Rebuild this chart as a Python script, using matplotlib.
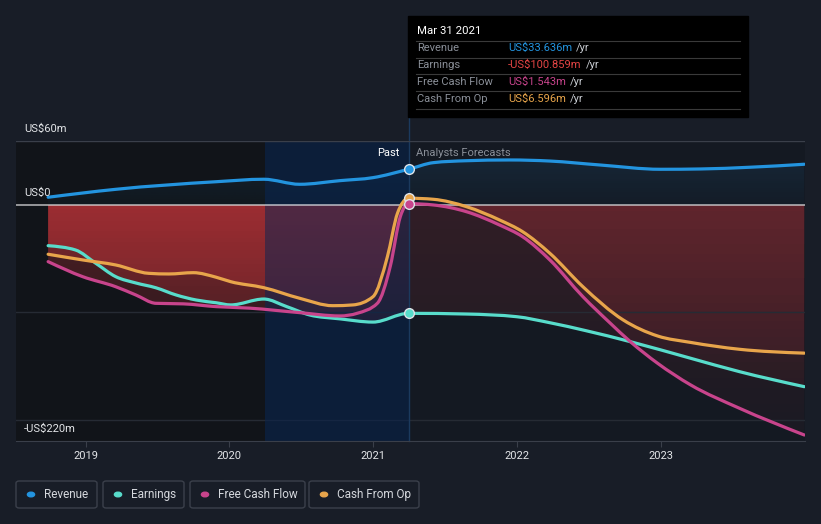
import numpy as np
import matplotlib
matplotlib.use("Agg")
import matplotlib.pyplot as plt
from matplotlib.path import Path
from matplotlib.patches import PathPatch, Rectangle, FancyBboxPatch, Circle
from matplotlib.lines import Line2D

plt.rcParams['font.family'] = ['Roboto', 'DejaVu Sans']

# ---- data (US$ m, x in decimal years) ----
rev_x = [2018.74, 2019.21, 2019.91, 2020.24, 2020.49, 2020.77, 2021.00, 2021.247,
         2021.42, 2021.65, 2021.95, 2022.23, 2022.58, 2023.00, 2023.28, 2023.62, 2024.00]
rev_y = [7.5, 14.9, 22.0, 24.3, 19.6, 23.0, 25.8, 33.636,
         39.8, 41.6, 42.3, 41.3, 37.6, 33.6, 33.9, 35.5, 38.3]

earn_x = [2018.74, 2018.93, 2019.07, 2019.21, 2019.35, 2019.49, 2019.63, 2019.77, 2019.91,
          2020.01, 2020.24, 2020.40, 2020.56, 2020.77, 2021.00, 2021.247,
          2021.65, 2022.00, 2022.23, 2022.48, 2022.79, 2023.21, 2023.55, 2024.00]
earn_y = [-37.7, -41.7, -54.0, -66.6, -72.5, -77.0, -83.7, -88.4, -91.0,
          -93.0, -87.5, -94.6, -102.4, -106.0, -109.0, -100.859,
          -101.5, -104.0, -109.6, -117.0, -127.3, -142.8, -155.3, -169.3]

fcf_x = [2018.74, 2018.98, 2019.21, 2019.35, 2019.49, 2019.68, 2019.91, 2020.14, 2020.49,
         2020.77, 2020.89, 2021.03, 2021.12, 2021.19, 2021.247,
         2021.42, 2021.65, 2021.88, 2022.04, 2022.23, 2022.46, 2022.65, 2022.79, 2022.98,
         2023.21, 2023.55, 2024.00]
fcf_y = [-52.6, -66.6, -76.0, -83.7, -91.5, -92.0, -94.6, -96.0, -100.2,
         -103.3, -100.8, -91.5, -57.0, -10.6, 1.543,
         0.3, -6.0, -18.4, -29.3, -51.0, -85.3, -110.0, -127.3, -147.5,
         -167.7, -189.5, -214.4]

cfo_x = [2018.74, 2018.98, 2019.21, 2019.44, 2019.58, 2019.75, 2019.91, 2020.01, 2020.24,
         2020.49, 2020.72, 2020.86, 2021.00, 2021.10, 2021.17, 2021.247,
         2021.42, 2021.65, 2021.88, 2022.04, 2022.23, 2022.46, 2022.74, 2022.98,
         2023.21, 2023.55, 2024.00]
cfo_y = [-45.7, -51.0, -55.7, -63.5, -64.1, -62.9, -67.2, -71.3, -76.9,
         -86.8, -93.7, -93.0, -85.3, -48.0, -7.5, 6.596,
         5.6, -1.3, -13.7, -24.6, -44.8, -76.0, -107.0, -122.0,
         -128.0, -134.4, -138.0]

series_names = ["Revenue", "Earnings", "Free Cash Flow", "Cash From Op"]
tip_values = ["US$33.636m", "-US$100.859m", "US$1.543m", "US$6.596m"]
tick_years = [2019, 2020, 2021, 2022, 2023]
y_labels = [(60, "US$60m"), (0, "US$0"), (-220, "-US$220m")]

today = 2021.247
REV, EARN, FCF, CFO = '#2394df', '#58dccb', '#c8448c', '#e8a54b'
EARN_TIP = '#e64545'
BG = '#181d27'
AXBG = '#141922'

W, H = 821, 524
X0, X1 = 2018.5165, 2024.005
Y0, Y1 = -220, 60


def monotone_path(xs, ys, close_to=None):
    # monotone cubic (like d3 curveMonotoneX) as bezier segments
    xs = np.asarray(xs, float)
    ys = np.asarray(ys, float)
    n = len(xs)
    h = np.diff(xs)
    s = np.diff(ys) / h
    m = np.zeros(n)
    for i in range(1, n - 1):
        s0, s1, h0, h1 = s[i - 1], s[i], h[i - 1], h[i]
        p = (s0 * h1 + s1 * h0) / (h0 + h1)
        m[i] = (np.sign(s0) + np.sign(s1)) * min(abs(s0), abs(s1), 0.5 * abs(p))
    m[0] = (3 * s[0] - m[1]) / 2
    m[-1] = (3 * s[-1] - m[-2]) / 2
    verts = [(xs[0], ys[0])]
    codes = [Path.MOVETO]
    for i in range(n - 1):
        dx = h[i] / 3
        verts += [(xs[i] + dx, ys[i] + m[i] * dx),
                  (xs[i + 1] - dx, ys[i + 1] - m[i + 1] * dx),
                  (xs[i + 1], ys[i + 1])]
        codes += [Path.CURVE4] * 3
    if close_to is not None:
        verts += [(xs[-1], close_to), (xs[0], close_to), (xs[0], ys[0])]
        codes += [Path.LINETO, Path.LINETO, Path.CLOSEPOLY]
    return Path(verts, codes)


fig = plt.figure(figsize=(W / 100, H / 100), dpi=100, facecolor=BG)
ax = fig.add_axes([16 / W, (H - 441) / H, 789 / W, 300 / H])
ax.set_facecolor(AXBG)

# darker "past" background
ax.add_patch(Rectangle((X0, Y0), 2020.25 - X0, Y1 - Y0, color='#111419', zorder=0.2, lw=0))

# revenue area gradient
gy = np.linspace(0, 1, 100)
rev_img = np.zeros((100, 2, 4))
rev_img[..., :3] = matplotlib.colors.to_rgb(REV)
rev_img[..., 3] = (0.03 + 0.11 * gy)[:, None]
im = ax.imshow(rev_img, extent=[X0, X1, 0, Y1], origin='lower', aspect='auto', zorder=1)
im.set_clip_path(PathPatch(monotone_path(rev_x, rev_y, 0), transform=ax.transData))

# red areas for negative series
nx, ny = 800, 120
cx = np.linspace(X0, X1, nx)
cy = np.linspace(0, 1, ny)
past = cx < today
red_img = np.zeros((ny, nx, 4))
red_img[..., :3] = (235 / 255, 60 / 255, 65 / 255)
a_past = 0.04 + 0.25 * cy
a_fore = 0.03 + 0.11 * cy
red_img[..., 3] = np.where(past[None, :], a_past[:, None], a_fore[:, None])
for sx, sy in [(earn_x, earn_y), (fcf_x, fcf_y), (cfo_x, cfo_y)]:
    im = ax.imshow(red_img, extent=[X0, X1, Y0, 0], origin='lower', aspect='auto',
                   interpolation='nearest', zorder=1)
    im.set_clip_path(PathPatch(monotone_path(sx, sy, 0), transform=ax.transData))

# last-year highlight
ax.add_patch(Rectangle((2020.25, Y0), today - 2020.25, Y1 - Y0,
                       color=(5 / 255, 35 / 255, 80 / 255), alpha=0.5, zorder=1.5, lw=0))

# grid
ax.axhline(60, color='#3a3f4a', lw=1, zorder=2)
for g in [-100, -200]:
    ax.axhline(g, color='#262b34', lw=1, zorder=1.2)
ax.axhline(0, color='white', alpha=0.6, lw=1.3, zorder=2)

# lines
for sx, sy, c in [(rev_x, rev_y, REV), (earn_x, earn_y, EARN),
                  (fcf_x, fcf_y, FCF), (cfo_x, cfo_y, CFO)]:
    ax.add_patch(PathPatch(monotone_path(sx, sy), fc='none', ec=c, lw=2.3,
                           capstyle='round', joinstyle='round', zorder=3))

# divider line and markers
ax.plot([today, today], [Y0, Y1 + 25 / 1.0714], color='#1b3a5e', lw=1, zorder=1.6, clip_on=False)
for sx, sy, c in [(rev_x, rev_y, REV), (cfo_x, cfo_y, CFO), (fcf_x, fcf_y, FCF), (earn_x, earn_y, EARN)]:
    i = sx.index(today)
    ax.plot(sx[i], sy[i], 'o', ms=7, mfc=c, mec='#dfe3e8', mew=1, zorder=5)

ax.set_xlim(X0, X1)
ax.set_ylim(Y0, Y1)
for sp in ['top', 'right', 'left']:
    ax.spines[sp].set_visible(False)
ax.spines['bottom'].set_color('#3a3f4a')
ax.set_yticks([])
ax.set_xticks(tick_years)
ax.set_xticklabels([str(y) for y in tick_years])
ax.tick_params(axis='x', colors='#3a3f4a', labelcolor='#e3e5e8', labelsize=8, length=4, pad=3)

for v, s in y_labels:
    ax.annotate(s, xy=(8 / 789, v), xycoords=ax.get_yaxis_transform(),
                xytext=(0, 12 * 0.72), textcoords='offset points',
                va='center', ha='left', color='#e3e5e8', fontsize=8)

# Past / forecast labels
def fx(x):
    return x / W


def fy(y):
    return 1 - y / H


fig.text(fx(399), fy(153), "Past", color='white', fontsize=8, ha='right', va='center')
fig.text(fx(416), fy(153), "Analysts Forecasts", color='#8a8f98', fontsize=8, ha='left', va='center')

# tooltip
fig.patches.append(Rectangle((fx(408), fy(117)), 340 / W, 101 / H, transform=fig.transFigure,
                             color='black', zorder=10))
fig.text(fx(417), fy(31), "Mar 31 2021", color='white', fontsize=8.2, ha='left', va='center', zorder=11)
for ly in [40.7, 57.7, 74.3, 91.3, 108.7]:
    fig.lines.append(Line2D([fx(416), fx(740)], [fy(ly), fy(ly)], transform=fig.transFigure,
                            color='#3a3a3a', lw=0.8, zorder=11))
renderer = fig.canvas.get_renderer()
tip_colors = [REV, EARN_TIP, FCF, CFO]
for k, (name, val, c) in enumerate(zip(series_names, tip_values, tip_colors)):
    yy = fy(48.3 + k * 17)
    fig.text(fx(417), yy, name, color='#8a8f98', fontsize=8, ha='left', va='center', zorder=11)
    t = fig.text(fx(508), yy, val, color=c, fontsize=8, ha='left', va='center', zorder=11)
    bb = t.get_window_extent(renderer)
    fig.text(fx(bb.x1 + 4), yy, "/yr", color='#c8ccd2', fontsize=8, ha='left', va='center', zorder=11)

# legend
leg_boxes = [(16, 97), (103, 184), (190, 305), (309, 419)]
leg_colors = [REV, EARN, FCF, CFO]
for (bx0, bx1), name, c in zip(leg_boxes, series_names, leg_colors):
    fig.patches.append(FancyBboxPatch((fx(bx0), fy(508)), (bx1 - bx0) / W, 27 / H,
                                      boxstyle="round,pad=0,rounding_size=0.004",
                                      transform=fig.transFigure, fc='none', ec='#3b404b', lw=1))
    fig.patches.append(Circle((fx(bx0 + 15), fy(494.5)), 3.6 / W, transform=fig.transFigure,
                              color=c))
    fig.text(fx(bx0 + 28), fy(494.5), name, color='#d5d8dd', fontsize=8.5, ha='left', va='center')

fig.savefig("out.png", dpi=100, facecolor=BG)
